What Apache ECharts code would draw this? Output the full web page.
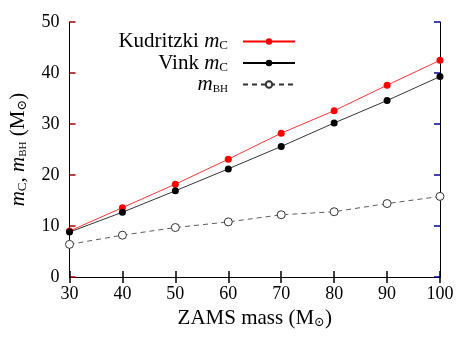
<!DOCTYPE html>
<html>
<head>
<meta charset="utf-8">
<script src="https://cdn.jsdelivr.net/npm/echarts@6/dist/echarts.min.js"></script>
<style>
  html, body { margin: 0; padding: 0; background: #fff; }
  #main { width: 471px; height: 344px; }
</style>
</head>
<body>
<div id="main"></div>
<script>
// ZAMS masses and the core / black hole masses
var zamsMass = [30, 40, 50, 60, 70, 80, 90, 100];
var kudritzkiMc = [9.0, 13.6, 18.2, 23.1, 28.2, 32.6, 37.6, 42.5];
var vinkMc = [8.8, 12.7, 16.9, 21.2, 25.6, 30.2, 34.6, 39.3];
var mBH = [6.4, 8.2, 9.7, 10.8, 12.2, 12.8, 14.4, 15.8];

var FONT = '"Liberation Serif", "DejaVu Serif", serif';

function pairs(ys) {
    var out = [];
    for (var i = 0; i < zamsMass.length; i++) {
        out.push([zamsMass[i], ys[i]]);
    }
    return out;
}

function richSet(big, small, tiny, drop) {
    return {
        t: { fontFamily: FONT, fontSize: big, color: '#000' },
        i: { fontFamily: FONT, fontSize: big, fontStyle: 'italic', color: '#000' },
        s: { fontFamily: FONT, fontSize: small, color: '#000', padding: [drop, 0, 0, 0] },
        sc: { fontFamily: FONT, fontSize: tiny, color: '#000', padding: [drop, 0, 0, 0] }
    };
}

// inward ticks on all four sides
function ticks(c) {
    return { show: true, inside: true, length: 6, lineStyle: { color: c, width: 1.5 } };
}

var myChart = echarts.init(document.getElementById('main'));
var option = {
    backgroundColor: '#fff',
    animation: false,
    grid: { left: 69, right: 31, top: 22, bottom: 67 },
    legend: {
        orient: 'vertical',
        right: 170,
        top: 26,
        align: 'right',
        itemGap: 0,
        itemWidth: 52,
        itemHeight: 8,
        data: ['Kudritzki', 'Vink', 'BH'],
        formatter: function(name) {
            if (name === 'Kudritzki') return '{t|Kudritzki }{i|m}{s|C}';
            if (name === 'Vink') return '{t|Vink }{i|m}{s|C}';
            return '{i|m}{sc|BH}';
        },
        textStyle: { rich: richSet(21, 13, 11, 9), padding: [0, 10, 0, 0] }
    },
    xAxis: [{
        type: 'value',
        min: 30, max: 100, interval: 10,
        name: '{t|ZAMS mass (M}{s|⊙}{t|)}',
        nameLocation: 'middle',
        nameGap: 30,
        nameTextStyle: { rich: richSet(21, 13, 11, 9) },
        axisLine: { show: true, lineStyle: { color: '#000', width: 1 } },
        axisTick: ticks('black'),
        axisLabel: { fontFamily: FONT, fontSize: 18, color: '#000', margin: 8 },
        splitLine: { show: false }
    }, {
        type: 'value', position: 'top',
        min: 30, max: 100, interval: 10,
        axisLine: { show: true, lineStyle: { color: '#000' } },
        axisTick: ticks('rgb(0,0,0)'),
        axisLabel: { show: false },
        splitLine: { show: false }
    }],
    yAxis: [{
        type: 'value',
        min: 0, max: 50, interval: 10,
        name: '{i|m}{s|C}{t|, }{i|m}{sc|BH}{t| (M}{s|⊙}{t|)}',
        nameLocation: 'middle',
        nameRotate: 90,
        nameGap: 40,
        nameTextStyle: { rich: richSet(21, 13, 11, 9) },
        axisLine: { show: true, lineStyle: { color: '#000' } },
        axisTick: ticks('#a00'),
        axisLabel: { fontFamily: FONT, fontSize: 18, color: '#000', margin: 10 },
        splitLine: { show: false }
    }, {
        type: 'value', position: 'right',
        min: 0, max: 50, interval: 10,
        axisLine: { show: true, lineStyle: { color: '#000' } },
        axisTick: ticks('#00a'),
        axisLabel: { show: false },
        splitLine: { show: false }
    }],
    series: [{
        name: 'Kudritzki',
        type: 'line',
        data: pairs(kudritzkiMc),
        symbol: 'circle',
        symbolSize: 7,
        itemStyle: { color: '#f00' },
        lineStyle: { color: '#f00', width: 0.8 }
    }, {
        name: 'Vink',
        type: 'line',
        data: pairs(vinkMc),
        symbol: 'circle',
        symbolSize: 7,
        itemStyle: { color: '#000' },
        lineStyle: { color: '#000', width: 0.8 }
    }, {
        name: 'BH',
        type: 'line',
        data: pairs(mBH),
        symbol: 'circle',
        symbolSize: 8,
        itemStyle: { color: '#fff', borderColor: '#333', borderWidth: 1 },
        lineStyle: { color: '#333', width: 0.8, type: [5, 4] }
    }]
};
myChart.setOption(option);
</script>
</body>
</html>
